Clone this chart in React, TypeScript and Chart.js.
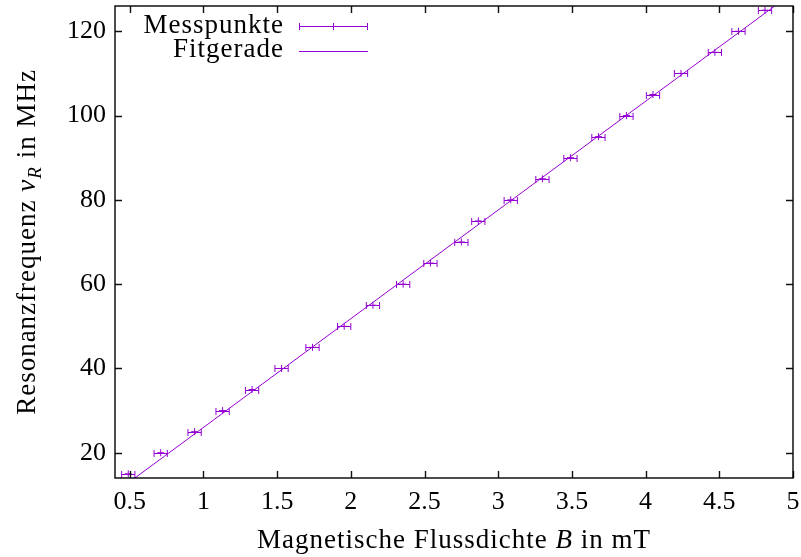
import React, { useEffect, useRef } from 'react';
import { Chart, registerables } from 'chart.js';

Chart.register(...registerables);

// ---- data ----
const fieldB = [0.49, 0.71, 0.94, 1.13, 1.33, 1.53, 1.74, 1.955, 2.15, 2.355, 2.54, 2.75, 2.865, 3.085, 3.3, 3.49, 3.68, 3.87, 4.05, 4.24, 4.47, 4.63, 4.81];
const frequency = [15, 20, 25, 30, 35, 40, 45, 50, 55, 60, 65, 70, 75, 80, 85, 90, 95, 100, 105, 110, 115, 120, 125];
const fieldError = 0.045;
const fitSlope = 25.8;
const fitIntercept = 0.2;
const xRange = [0.4, 5];
const yRange = [14, 126];
const xTicks = [0.5, 1, 1.5, 2, 2.5, 3, 3.5, 4, 4.5, 5];
const yTicks = [20, 40, 60, 80, 100, 120];
const legendLabels = ['Messpunkte', 'Fitgerade'];

const PURPLE = '#9400d3';
const SERIF = '"Liberation Serif", "Times New Roman", serif';

type Seg = { t: string; italic?: boolean; sub?: boolean };

function drawRich(ctx: CanvasRenderingContext2D, segs: Seg[], size: number, spacing: number) {
  const fontFor = (s: Seg) => `${s.italic ? 'italic ' : ''}${s.sub ? Math.round(size * 0.72) : size}px ${SERIF}`;
  let total = 0;
  const widths = segs.map((s) => {
    ctx.font = fontFor(s);
    (ctx as any).letterSpacing = `${spacing}px`;
    const w = ctx.measureText(s.t).width;
    total += w;
    return w;
  });
  let x = -total / 2;
  segs.forEach((s, i) => {
    ctx.font = fontFor(s);
    (ctx as any).letterSpacing = `${spacing}px`;
    ctx.fillText(s.t, x, s.sub ? size * 0.22 : 0);
    x += widths[i];
  });
}

const zeroPad = (s: any) => {
  s.paddingTop = 0;
  s.paddingBottom = 0;
  s.paddingLeft = 0;
  s.paddingRight = 0;
};

const decorPlugin = {
  id: 'gnuplotDecor',
  afterDatasetsDraw(chart: any) {
    const ctx: CanvasRenderingContext2D = chart.ctx;
    const xs = chart.scales.x;
    const ys = chart.scales.y;
    const area = chart.chartArea;

    // error bars
    ctx.save();
    ctx.beginPath();
    ctx.rect(area.left, area.top, area.right - area.left, area.bottom - area.top);
    ctx.clip();
    ctx.strokeStyle = PURPLE;
    ctx.lineWidth = 1;
    const cap = 3.5;
    fieldB.forEach((b, i) => {
      const y = Math.round(ys.getPixelForValue(frequency[i])) + 0.5;
      const x1 = xs.getPixelForValue(b - fieldError);
      const x2 = xs.getPixelForValue(b + fieldError);
      ctx.beginPath();
      ctx.moveTo(x1, y);
      ctx.lineTo(x2, y);
      ctx.moveTo(x1, y - cap);
      ctx.lineTo(x1, y + cap);
      ctx.moveTo(x2, y - cap);
      ctx.lineTo(x2, y + cap);
      ctx.stroke();
    });
    ctx.restore();

    // border and inward ticks
    ctx.save();
    ctx.strokeStyle = '#111';
    ctx.lineWidth = 1.4;
    const tl = 7;
    ctx.beginPath();
    xTicks.forEach((v) => {
      const px = Math.round(xs.getPixelForValue(v)) + 0.5;
      ctx.moveTo(px, area.bottom);
      ctx.lineTo(px, area.bottom - tl);
      ctx.moveTo(px, area.top);
      ctx.lineTo(px, area.top + tl);
    });
    yTicks.forEach((v) => {
      const py = Math.round(ys.getPixelForValue(v)) + 0.5;
      ctx.moveTo(area.left, py);
      ctx.lineTo(area.left + tl, py);
      ctx.moveTo(area.right, py);
      ctx.lineTo(area.right - tl, py);
    });
    ctx.stroke();
    ctx.strokeStyle = '#000';
    ctx.strokeRect(area.left, area.top, area.right - area.left, area.bottom - area.top);
    ctx.restore();

    // legend
    ctx.save();
    ctx.fillStyle = '#000';
    ctx.textAlign = 'right';
    ctx.textBaseline = 'alphabetic';
    ctx.font = `27px ${SERIF}`;
    (ctx as any).letterSpacing = '1px';
    ctx.fillText(legendLabels[0], 284, 33);
    ctx.fillText(legendLabels[1], 284, 57);
    (ctx as any).letterSpacing = '0px';
    ctx.strokeStyle = PURPLE;
    ctx.lineWidth = 1;
    const ly1 = 26.5;
    const ly2 = 51.5;
    ctx.beginPath();
    ctx.moveTo(299, ly1);
    ctx.lineTo(368, ly1);
    ctx.moveTo(299.5, ly1 - 3.5);
    ctx.lineTo(299.5, ly1 + 3.5);
    ctx.moveTo(367.5, ly1 - 3.5);
    ctx.lineTo(367.5, ly1 + 3.5);
    ctx.moveTo(333.5, ly1 - 3.5);
    ctx.lineTo(333.5, ly1 + 3.5);
    ctx.moveTo(299, ly2);
    ctx.lineTo(368, ly2);
    ctx.stroke();
    ctx.restore();

    // axis titles
    ctx.save();
    ctx.fillStyle = '#000';
    ctx.textAlign = 'left';
    ctx.textBaseline = 'alphabetic';
    ctx.translate((area.left + area.right) / 2, 548);
    drawRich(ctx, [{ t: 'Magnetische Flussdichte ' }, { t: 'B', italic: true }, { t: ' in mT' }], 27, 1);
    ctx.restore();

    ctx.save();
    ctx.fillStyle = '#000';
    ctx.textAlign = 'left';
    ctx.textBaseline = 'alphabetic';
    ctx.translate(35, (area.top + area.bottom) / 2);
    ctx.rotate(-Math.PI / 2);
    drawRich(ctx, [{ t: 'Resonanzfrequenz ' }, { t: 'ν', italic: true }, { t: 'R', italic: true, sub: true }, { t: ' in MHz' }], 27, 1);
    ctx.restore();
  },
};

export default function App() {
  const ref = useRef<HTMLCanvasElement | null>(null);

  useEffect(() => {
    if (!ref.current) return;
    const points = fieldB.map((b, i) => ({ x: b, y: frequency[i] }));
    const fitLine = xRange.map((b) => ({ x: b, y: fitSlope * b + fitIntercept }));
    const chart = new Chart(ref.current, {
      type: 'scatter',
      data: {
        datasets: [
          {
            label: legendLabels[0],
            data: points,
            showLine: false,
            pointStyle: 'cross',
            pointRadius: 3.5,
            borderWidth: 1,
            borderColor: PURPLE,
            backgroundColor: PURPLE,
          },
          {
            label: legendLabels[1],
            data: fitLine,
            showLine: true,
            pointRadius: 0,
            borderWidth: 1,
            borderColor: PURPLE,
            backgroundColor: PURPLE,
          },
        ],
      },
      options: {
        animation: false,
        responsive: false,
        events: [],
        layout: { padding: { top: 6, right: 8, left: 0, bottom: 0 } },
        plugins: { legend: { display: false }, tooltip: { enabled: false } },
        scales: {
          x: {
            type: 'linear',
            min: xRange[0],
            max: xRange[1],
            grid: { display: false, drawTicks: false },
            border: { display: false },
            afterBuildTicks: (s: any) => {
              s.ticks = xTicks.map((v) => ({ value: v }));
            },
            afterFit: (s: any) => {
              s.height = 79;
              zeroPad(s);
            },
            ticks: {
              color: '#000',
              padding: 9,
              maxRotation: 0,
              autoSkip: false,
              font: { family: SERIF, size: 26 },
              callback: (v: any) => String(v),
            },
          },
          y: {
            type: 'linear',
            min: yRange[0],
            max: yRange[1],
            grid: { display: false, drawTicks: false },
            border: { display: false },
            afterBuildTicks: (s: any) => {
              s.ticks = yTicks.map((v) => ({ value: v }));
            },
            afterFit: (s: any) => {
              s.width = 115;
              zeroPad(s);
            },
            ticks: {
              color: '#000',
              padding: 9,
              autoSkip: false,
              font: { family: SERIF, size: 26 },
              callback: (v: any) => String(v),
            },
          },
        },
      },
      plugins: [decorPlugin],
    } as any);
    return () => chart.destroy();
  }, []);

  return (
    <div style={{ position: 'fixed', left: 0, top: 0, width: 801, height: 557, background: '#fff' }}>
      <canvas ref={ref} width={801} height={557} style={{ display: 'block' }} />
    </div>
  );
}
